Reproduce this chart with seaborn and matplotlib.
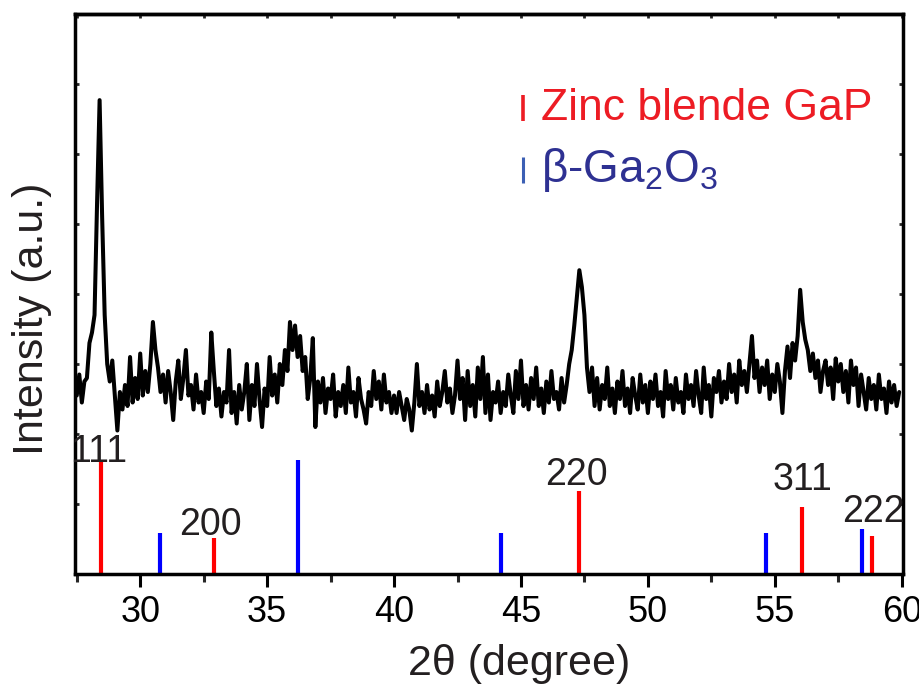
import numpy as np
import pandas as pd
import matplotlib
matplotlib.use("Agg")
import matplotlib.pyplot as plt
import seaborn as sns

# ---------------- data ----------------
x_start = 27.5
x_step = 0.1
intensity = [
    2.55, 2.85, 2.45, 2.75, 2.8,
    3.3, 3.45, 3.7, 5.3, 6.77, 5.1, 3.7, 3.0, 2.75, 3.05,          # 28
    2.55, 2.05, 2.6, 2.35, 2.7, 2.4, 3.1, 2.45, 2.8, 2.5,          # 29
    3.15, 2.55, 2.9, 2.6, 3.0, 3.6, 3.2, 2.95, 2.6, 2.85,          # 30
    2.45, 2.9, 2.6, 2.2, 2.75, 3.05, 2.5, 2.8, 3.2, 2.55,          # 31
    2.7, 2.35, 2.85, 2.45, 2.6, 2.3, 2.75, 2.5, 3.45, 2.9,         # 32
    2.4, 2.65, 2.25, 2.6, 2.45, 3.2, 2.3, 2.6, 2.15, 2.7,          # 33
    2.35, 2.6, 3.0, 2.2, 2.7, 2.4, 3.0, 2.5, 2.1, 2.65,            # 34
    2.4, 3.1, 2.55, 2.85, 2.45, 3.0, 2.7, 3.2, 2.9, 3.6,           # 35
    3.2, 3.55, 3.1, 3.4, 2.9, 3.1, 2.5, 2.8, 3.37, 2.1,            # 36
    2.75, 2.45, 2.8, 2.3, 2.65, 2.5, 2.85, 2.25, 2.6, 2.4,         # 37
    2.7, 2.3, 2.95, 2.45, 2.6, 2.25, 2.8, 2.5, 2.35, 2.15,         # 38
    2.6, 2.4, 2.9, 2.5, 2.75, 2.35, 2.85, 2.45, 2.6, 2.3,          # 39
    2.55, 2.3, 2.6, 2.4, 2.2, 2.5, 2.35, 2.05, 2.45, 3.0,          # 40
    2.4, 2.6, 2.3, 2.7, 2.35, 2.55, 2.25, 2.75, 2.4, 2.6,          # 41
    2.9, 2.45, 2.65, 2.3, 2.55, 3.05, 2.5, 2.8, 2.2, 2.9,          # 42
    2.4, 2.7, 2.25, 2.95, 2.5, 3.1, 2.3, 2.85, 2.2, 2.6,           # 43
    2.45, 2.75, 2.3, 2.6, 2.4, 2.85, 2.55, 2.3, 2.9, 2.5,          # 44
    3.05, 2.4, 2.7, 2.35, 2.8, 2.5, 2.95, 2.4, 2.65, 2.3,          # 45
    2.75, 2.45, 2.9, 2.5, 2.6, 2.35, 2.8, 2.45, 2.7, 3.0,          # 46
    3.2, 3.55, 3.95, 4.34, 4.1, 3.7, 2.95, 2.6, 2.95, 2.4,         # 47
    2.8, 2.35, 2.7, 2.5, 2.95, 2.4, 2.65, 2.3, 2.75, 2.5,          # 48
    2.9, 2.4, 2.65, 2.3, 2.8, 2.55, 2.35, 2.85, 2.45, 2.7,         # 49
    2.3, 2.75, 2.5, 2.85, 2.4, 2.6, 2.25, 2.9, 2.5, 2.7,           # 50
    2.35, 2.8, 2.45, 2.6, 2.3, 2.85, 2.5, 2.7, 2.4, 2.9,           # 51
    2.55, 2.3, 2.95, 2.5, 2.7, 2.25, 2.8, 2.6, 2.9, 2.45,          # 52
    2.75, 2.5, 3.0, 2.6, 2.85, 2.45, 3.05, 2.7, 2.9, 2.6,          # 53
    3.0, 3.4, 2.8, 3.05, 2.6, 2.95, 2.7, 3.05, 2.5, 2.85,          # 54
    2.6, 3.0, 2.75, 2.3, 2.9, 3.25, 2.8, 3.3, 3.05, 3.4,           # 55
    4.06, 3.6, 3.35, 3.2, 2.9, 3.15, 2.8, 3.05, 2.6, 2.9,          # 56
    3.05, 2.7, 2.95, 2.5, 3.08, 2.75, 3.0, 2.6, 2.9, 2.45,         # 57
    3.05, 2.7, 2.95, 2.4, 2.85, 2.6, 2.35, 2.8, 2.5, 2.7,          # 58
    2.35, 2.85, 2.5, 2.65, 2.3, 2.75, 2.45, 2.7, 2.4, 2.6,         # 59
]
two_theta = np.round(x_start + x_step * np.arange(len(intensity)), 2)

# Zinc blende GaP reference lines
gap_pos = [28.45, 32.89, 47.28, 56.06, 58.82]
gap_h = [1.63, 0.51, 1.18, 0.96, 0.54]
gap_hkl = ["111", "200", "220", "311", "222"]
# hkl label anchors (centre x, baseline y)
hkl_x = [28.36, 32.76, 47.17, 56.10, 58.90]
hkl_y = [1.60, 0.56, 1.27, 1.20, 0.74]

# beta-Ga2O3 reference lines
ga2o3_pos = [30.79, 36.23, 44.21, 54.67, 58.45]
ga2o3_h = [0.59, 1.63, 0.59, 0.59, 0.64]

xticks = [30, 35, 40, 45, 50, 55, 60]

# ---------------- style ----------------
sns.set_theme(style="ticks")
plt.rcParams["font.family"] = ["Liberation Sans", "DejaVu Sans"]
plt.rcParams["mathtext.fontset"] = "custom"
plt.rcParams["mathtext.rm"] = "Liberation Sans"
plt.rcParams["mathtext.it"] = "Liberation Sans:italic"
plt.rcParams["mathtext.bf"] = "Liberation Sans:bold"

fig = plt.figure(figsize=(9.2, 6.84), dpi=100)
ax = fig.add_axes([0.0815, 0.1608, 0.9, 0.8187])

df = pd.DataFrame({"two_theta": two_theta, "intensity": intensity})
sns.lineplot(data=df, x="two_theta", y="intensity", ax=ax, color="black",
             lw=2.9, estimator=None, sort=False)

ax.vlines(gap_pos, 0, gap_h, colors="#ff0000", lw=3)
ax.vlines(ga2o3_pos, 0, ga2o3_h, colors="#0000ff", lw=3)

for lab, lx, ly in zip(gap_hkl, hkl_x, hkl_y):
    ax.text(lx, ly, lab, ha="center", va="baseline", fontsize=27, color="#231f20")

ax.set_xlim(27.43, 60.05)
ax.set_ylim(0, 8)
ax.set_xticks(xticks)
ax.set_xticks(np.arange(27.5, 60.01, 2.5), minor=True)
ax.set_yticks(np.arange(0, 8.01, 1))
ax.set_yticklabels([])

for s in ax.spines.values():
    s.set_visible(True)
    s.set_linewidth(2.5)
    s.set_color("black")

ax.tick_params(axis="x", which="major", direction="out", length=9, width=2.2,
               labelsize=26, pad=6, top=False, colors="black")
ax.tick_params(axis="x", which="minor", direction="out", length=6, width=2.2,
               top=False)
ax.tick_params(axis="y", which="major", direction="in", length=3, width=2,
               left=True, right=True)

# top axis: short inward ticks, no labels
sec = ax.secondary_xaxis("top")
sec.set_xticks(xticks)
sec.set_xticks(np.arange(27.5, 60.01, 2.5), minor=True)
sec.tick_params(axis="x", which="both", direction="in", length=3, width=2,
                labeltop=False)
sec.spines["top"].set_linewidth(2.5)

ax.set_xlabel("2θ (degree)", fontsize=31, color="#231f20")
ax.set_ylabel("Intensity (a.u.)", fontsize=31, color="#231f20")
ax.xaxis.set_label_coords(0.537, -0.125)
ax.yaxis.set_label_coords(-0.028, 0.455)

# legend (manual)
ax.plot([0.541], [0.832], marker="|", ms=19, mew=2.6, color="#ed1c24",
        transform=ax.transAxes, clip_on=False)
ax.text(0.563, 0.832, "Zinc blende GaP", color="#ed1c24", fontsize=32,
        va="center", ha="left", transform=ax.transAxes)
ax.plot([0.541], [0.721], marker="|", ms=19, mew=2.2, color="#3c5fb4",
        transform=ax.transAxes, clip_on=False)
ax.text(0.563, 0.721, r"β-Ga$_{\mathregular{2}}$O$_{\mathregular{3}}$",
        color="#2e3192", fontsize=33, va="center", ha="left",
        transform=ax.transAxes)

fig.savefig("out.png", dpi=100)
